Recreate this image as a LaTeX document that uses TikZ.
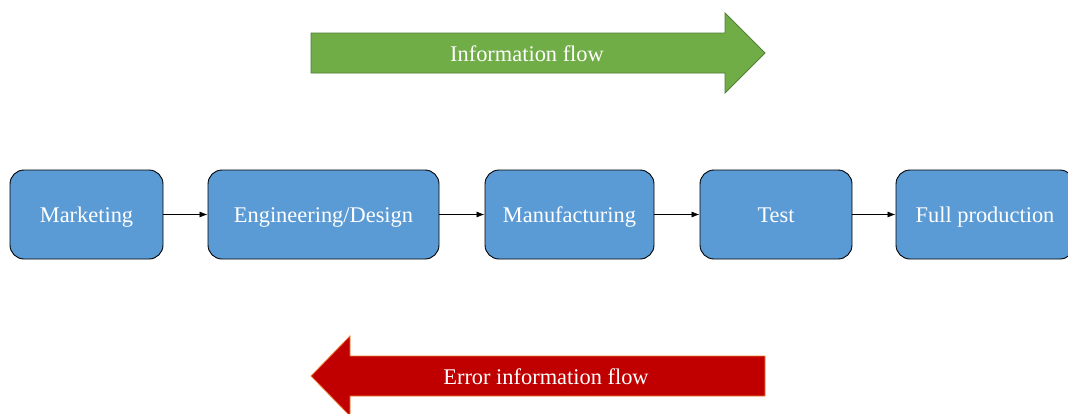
\documentclass[tikz,border=0pt]{standalone}
\usepackage{fontspec}
\setmainfont{Liberation Serif}
\usetikzlibrary{arrows.meta}
\definecolor{stageblue}{HTML}{5B9BD5}
\definecolor{flowgreen}{HTML}{70AD47}
\definecolor{flowgreenline}{HTML}{507E32}
\definecolor{errred}{HTML}{C00000}
\definecolor{errredline}{HTML}{ED7D31}
\tikzset{
  stage/.style={draw=black, line width=0.9pt, fill=stageblue, rounded corners=14pt,
    minimum height=89pt, inner sep=0pt, text=white, text height=18pt, text depth=2pt,
    font=\fontsize{22.4}{26}\selectfont},
  link/.style={-{Latex[length=8pt,width=6pt]}, line width=0.8pt, black},
  flowtext/.style={text=white, font=\fontsize{22.4}{26}\selectfont, inner sep=0pt,
    text height=18pt, text depth=2pt}
}
\begin{document}
\begin{tikzpicture}[x=1pt,y=-1pt]
\useasboundingbox (0,0) rectangle (1068,413);
\clip (0,0) rectangle (1068,413);
% forward information arrow
\draw[fill=flowgreen, draw=flowgreenline, line width=0.8pt]
  (311,33) -- (725,33) -- (725,13) -- (765,53) -- (725,93) -- (725,73) -- (311,73) -- cycle;
\node[flowtext] (info) at (527,53) {Information flow};
% error feedback arrow
\draw[fill=errred, draw=errredline, line width=0.8pt]
  (765,356) -- (350,356) -- (350,336) -- (311,376) -- (350,416) -- (350,396) -- (765,396) -- cycle;
\node[flowtext] (err) at (546,376) {Error information flow};
% process stages
\node[stage, minimum width=153pt] (mkt) at (86.5,214.5) {Marketing};
\node[stage, minimum width=231pt] (eng) at (323.5,214.5) {Engineering/Design};
\node[stage, minimum width=169pt] (mfg) at (569.5,214.5) {Manufacturing};
\node[stage, minimum width=152pt] (tst) at (776,214.5) {Test};
\node[stage, minimum width=178pt] (full) at (985,214.5) {Full production};
\draw[link] (mkt) -- (eng);
\draw[link] (eng) -- (mfg);
\draw[link] (mfg) -- (tst);
\draw[link] (tst) -- (full);
\end{tikzpicture}
\end{document}
